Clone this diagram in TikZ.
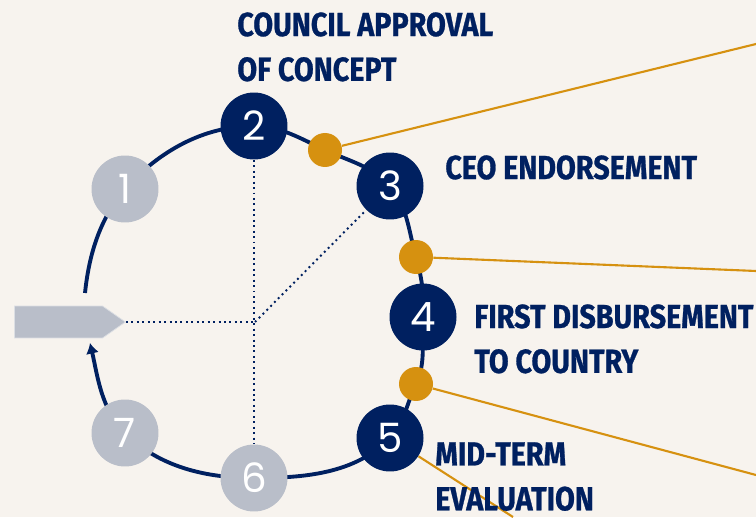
\documentclass[tikz,border=0pt]{standalone}
\usepackage{fontspec}
\usetikzlibrary{shapes.symbols, arrows.meta}
\newfontfamily\labelfont[FakeStretch=0.86,BoldFeatures={FakeBold=0.8}]{Fira Sans}
\newfontfamily\numfont{Poppins}
\definecolor{navy}{RGB}{0,32,96}
\definecolor{stone}{RGB}{185,190,201}
\definecolor{amber}{RGB}{214,145,16}
\definecolor{paper}{RGB}{247,243,238}
\pgfdeclarelayer{back}
\pgfsetlayers{back,main}

\begin{document}
\begin{tikzpicture}[x=0.02cm,y=0.02cm]
	\tikzstyle{done} = [circle,fill=navy,text=white,minimum size=1.34cm,inner sep=0pt,font=\numfont\fontsize{23}{23}\selectfont]
	\tikzstyle{todo} = [circle,fill=stone,text=white,minimum size=1.34cm,inner sep=0pt,font=\numfont\fontsize{23}{23}\selectfont]
	\tikzstyle{dot} = [circle,fill=amber,minimum size=0.68cm,inner sep=0pt]
	\tikzstyle{tag} = [signal,signal to=east,signal pointer angle=70,fill=stone,draw=white!50!stone,line width=0.4pt,minimum width=2.22cm,minimum height=0.64cm,inner sep=0pt]
	\tikzstyle{ring} = [draw=navy,line width=2.2pt,looseness=0.9]
	\tikzstyle{guide} = [draw=navy,dotted,line width=1.1pt]
	\tikzstyle{lead} = [draw=amber,line width=1.2pt]
	\tikzstyle{phase} = [anchor=north west,align=left,text=navy,inner sep=0pt,font=\labelfont\bfseries\fontsize{19}{25.5}\selectfont]
	\begin{pgfonlayer}{back}
	\fill[paper] (0,0) rectangle (756,517);
	\end{pgfonlayer}
	\useasboundingbox (0,0) rectangle (756,517);
	% steps round the ring
	\node[todo] (n1) at (125,328) {1};
	\node[done] (n2) at (254,391) {2};
	\node[done] (n3) at (390,331) {3};
	\node[done] (n4) at (423,200) {4};
	\node[done] (n5) at (390,79) {5};
	\node[todo] (n6) at (254,39) {6};
	\node[todo] (n7) at (125,84) {7};
	\node[dot] (d1) at (325,367) {};
	\node[dot] (d2) at (416,260) {};
	\node[dot] (d3) at (416,133) {};
	\node[tag,anchor=east] (tag) at (126,195) {};
	\coordinate (top) at (85,224);
	\coordinate (back) at (90,174);
	\coordinate (hub) at (255,195);
	\coordinate (e1) at (756,473);
	\coordinate (e2) at (756,246);
	\coordinate (e3) at (756,42);
	\coordinate (e4) at (513,0);
	\begin{pgfonlayer}{back}
	% leads off the page
	\draw[lead] (d1)--(e1);
	\draw[lead] (d2)--(e2);
	\draw[lead] (d3)--(e3);
	\draw[lead] (n5)--(e4);
	% dotted spokes
	\draw[guide] (n2)--(n6);
	\draw[guide] (tag.east)--(hub);
	\draw[guide] (hub)--(n3);
	% the ring
	\draw[ring] (top) to[out=84,in=230] (n1.center);
	\draw[ring] (n1.center) to[out=48,in=180] (n2.center);
	\draw[ring] (n2.center) to[out=0,in=155] (d1.center);
	\draw[ring] (d1.center) to[out=-25,in=131] (n3.center);
	\draw[ring] (n3.center) to[out=-49,in=106] (d2.center);
	\draw[ring] (d2.center) to[out=-74,in=86] (n4.center);
	\draw[ring] (n4.center) to[out=-94,in=64] (d3.center);
	\draw[ring] (d3.center) to[out=-116,in=46] (n5.center);
	\draw[ring] (n5.center) to[out=-134,in=0] (n6.center);
	\draw[ring] (n6.center) to[out=180,in=-45] (n7.center);
	\draw[ring,-{Latex[length=6pt,width=7.5pt]}] (n7.center) to[out=135,in=-77] (back);
	\end{pgfonlayer}
	% step names
	\node[phase] (t2) at (237,505) {COUNCIL APPROVAL\\OF CONCEPT};
	\node[phase] (t3) at (445,362) {CEO ENDORSEMENT};
	\node[phase] (t4) at (474,213) {FIRST DISBURSEMENT\\TO COUNTRY};
	\node[phase] (t5) at (435,75) {MID-TERM\\EVALUATION};
\end{tikzpicture}
\end{document}
